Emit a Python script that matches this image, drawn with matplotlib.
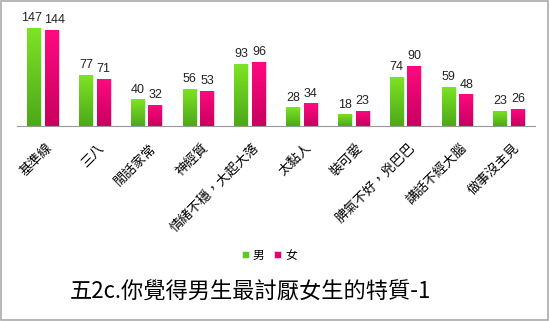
import matplotlib
matplotlib.use('Agg')
import matplotlib.pyplot as plt
import numpy as np
from matplotlib.patches import Rectangle
from matplotlib.colors import LinearSegmentedColormap

plt.rcParams['font.family'] = ['Noto Sans CJK TC', 'DejaVu Sans']

categories = ['基準線', '三八', '閒話家常', '神經質', '情緒不穩，大起大落',
              '太黏人', '裝可愛', '脾氣不好，兇巴巴', '講話不經大腦', '做事沒主見']
male = [147, 77, 40, 56, 93, 28, 18, 74, 59, 23]
female = [144, 71, 32, 53, 96, 34, 23, 90, 48, 26]
series_names = ['男', '女']

green_cm = LinearSegmentedColormap.from_list('g', ['#4ca81a', '#7ee424'])
pink_cm = LinearSegmentedColormap.from_list('p', ['#c8005f', '#ff0a80'])

fig = plt.figure(figsize=(5.5, 3.21), dpi=100)
ax = fig.add_axes([0.031, 0.607, 0.942, 0.334])

x = np.arange(len(categories))
w = 0.27
b1 = ax.bar(x - 0.17, male, w, color='#62c81f', edgecolor='#e4f4da', linewidth=0.6, label=series_names[0])
b2 = ax.bar(x + 0.17, female, w, color='#e8006f', edgecolor='#fad4e6', linewidth=0.6, label=series_names[1])

# vertical gradient fill inside every bar
grad = np.linspace(0, 1, 100).reshape(-1, 1)
for bars, cm in ((b1, green_cm), (b2, pink_cm)):
    for r in bars:
        im = ax.imshow(grad, cmap=cm, origin='lower', aspect='auto',
                       extent=[r.get_x(), r.get_x() + r.get_width(), 0, r.get_height()], zorder=1.5)
        im.set_clip_path(r)

# value labels; three-digit labels pushed a little apart so they don't collide
for bars, vals, side in ((b1, male, -1), (b2, female, 1)):
    for r, v in zip(bars, vals):
        dx = side * 2 if v >= 100 else 0
        ax.annotate(str(v), (r.get_x() + r.get_width() / 2, v + 5), xytext=(dx, 0),
                    textcoords='offset points', ha='center', va='bottom',
                    fontsize=9, family='Liberation Sans', color='#222222')

ax.set_xlim(-0.5, 9.5)
ax.set_ylim(0, 160)
ax.set_yticks([])
ax.set_xticks(x + 0.06)
ax.set_xticklabels(categories, rotation=45, ha='right', va='top', rotation_mode='anchor', fontsize=9.5)
ax.tick_params(axis='x', length=0, pad=11)
for s in ['top', 'right', 'left']:
    ax.spines[s].set_visible(False)
ax.spines['bottom'].set_color('#999999')

fig.legend(handles=[b1, b2], loc='center', bbox_to_anchor=(0.49, 0.205), ncol=2, frameon=False,
           fontsize=8.5, handlelength=0.6, handleheight=0.6, handletextpad=0.3, columnspacing=0.8)

fig.text(0.455, 0.09, '五2c.你覺得男生最討厭女生的特質-1', ha='center', va='center', fontsize=16)

fig.patches.append(Rectangle((0.002, 0.004), 0.994, 0.993, transform=fig.transFigure,
                             fill=False, edgecolor='#aaaaaa', linewidth=1.2))

fig.savefig('out.png', dpi=100)
